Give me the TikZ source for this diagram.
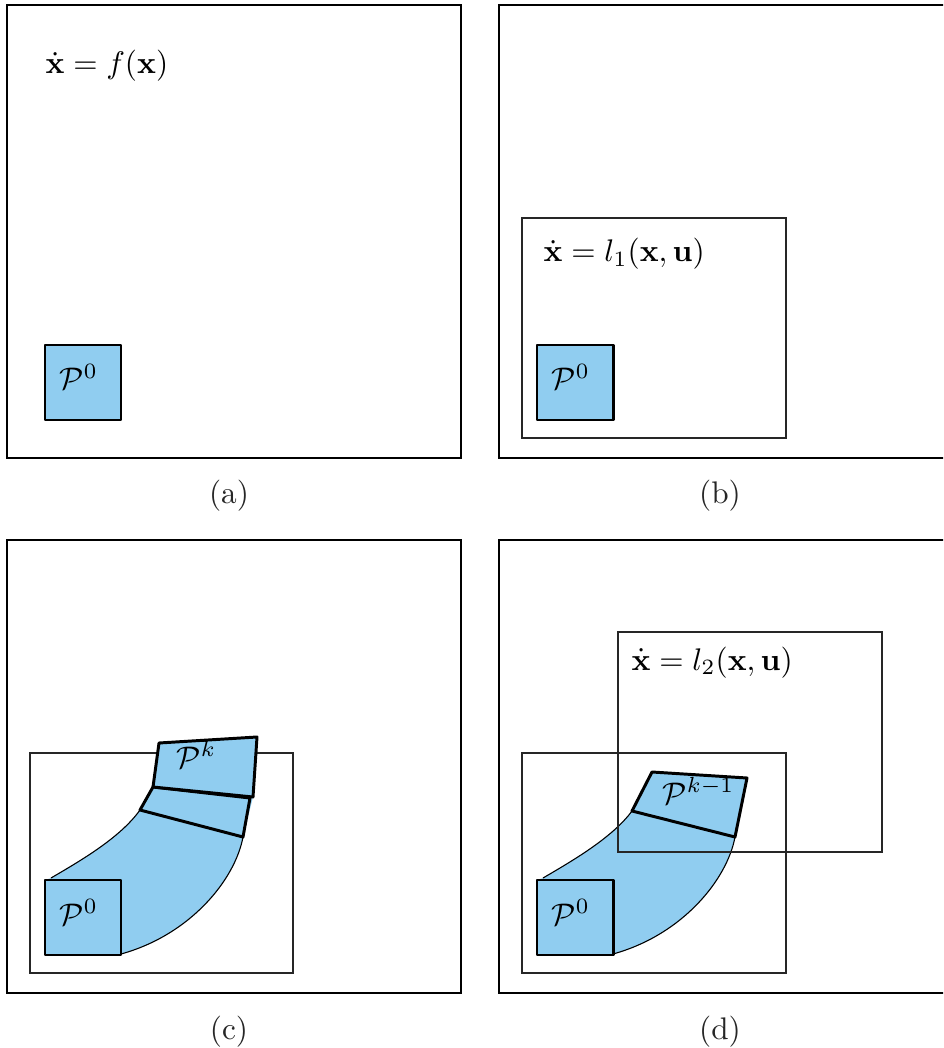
\documentclass[tikz,border=0pt]{standalone}
\usepackage{amsmath}
\definecolor{flowblue}{RGB}{144,205,240}
\begin{document}
\begin{tikzpicture}[x=0.32pt,y=-0.32pt,
  outerbox/.style={draw=black,line width=0.8pt},
  innerbox/.style={draw=black!85,line width=0.35pt},
  polybox/.style={draw=black,line width=0.95pt,fill=flowblue,line join=round},
  lbl/.style={inner sep=0pt,anchor=base west},
  captext/.style={inner sep=0pt,anchor=base,text=black!85}]
\useasboundingbox (0,0) rectangle (943,1048);
\clip (0,0) rectangle (943,1048);
% ---------- (a)
\draw[outerbox] (7,5) rectangle (461,458);
\draw[polybox] (45,345) rectangle (121,420);
\node[lbl] (eqa) at (45,74) {$\dot{\mathbf{x}} = f(\mathbf{x})$};
\node[lbl] (pa) at (59,390) {$\mathcal{P}^0$};
\node[captext] (capa) at (229,504) {(a)};
% ---------- (b)
\draw[outerbox] (499,5) rectangle (980,458);
\draw[innerbox] (522,218) rectangle (786,438);
\draw[polybox] (537,345) rectangle (613,420);
\node[lbl] (eqb) at (543,262) {$\dot{\mathbf{x}} = l_1(\mathbf{x},\mathbf{u})$};
\node[lbl] (pb) at (551,390) {$\mathcal{P}^0$};
\node[captext] (capb) at (720,504) {(b)};
% ---------- (c)
\draw[outerbox] (7,540) rectangle (461,993);
\draw[innerbox] (30,753) rectangle (293,973);
\fill[flowblue] (51,878) .. controls (80,861) and (120,838) .. (140,810)
  -- (153,787) -- (159,743) -- (257,737) -- (253,797) -- (243,837)
  .. controls (235,880) and (190,935) .. (121,954) -- (45,954) -- (45,880) -- cycle;
\draw[line width=0.35pt] (51,878) .. controls (80,861) and (120,838) .. (140,810);
\draw[line width=0.35pt] (243,837) .. controls (235,880) and (190,935) .. (121,954);
\draw[polybox] (140,810) -- (243,837) -- (250,798) -- (153,787) -- cycle;
\draw[polybox] (153,787) -- (253,797) -- (257,737) -- (159,743) -- cycle;
\draw[polybox] (45,880) rectangle (121,955);
\node[lbl] (pc) at (59,925) {$\mathcal{P}^0$};
\node[lbl] (pk) at (176,768) {$\mathcal{P}^k$};
\node[captext] (capc) at (229,1039) {(c)};
% ---------- (d)
\draw[outerbox] (499,540) rectangle (980,993);
\fill[flowblue] (543,878) .. controls (572,861) and (612,838) .. (632,811)
  -- (652,772) -- (747,778) -- (735,837)
  .. controls (727,880) and (682,935) .. (613,954) -- (537,954) -- (537,880) -- cycle;
\draw[line width=0.35pt] (543,878) .. controls (572,861) and (612,838) .. (632,811);
\draw[line width=0.35pt] (735,837) .. controls (727,880) and (682,935) .. (613,954);
\draw[innerbox] (522,753) rectangle (786,973);
\draw[innerbox] (618,632) rectangle (882,852);
\draw[polybox] (632,811) -- (735,837) -- (747,778) -- (652,772) -- cycle;
\draw[polybox] (537,880) rectangle (613,955);
\node[lbl] (eqd) at (631,670) {$\dot{\mathbf{x}} = l_2(\mathbf{x},\mathbf{u})$};
\node[lbl] (pd) at (551,925) {$\mathcal{P}^0$};
\node[lbl] (pkm) at (662,804) {$\mathcal{P}^{k-1}$};
\node[captext] (capd) at (720,1039) {(d)};
\end{tikzpicture}
\end{document}
